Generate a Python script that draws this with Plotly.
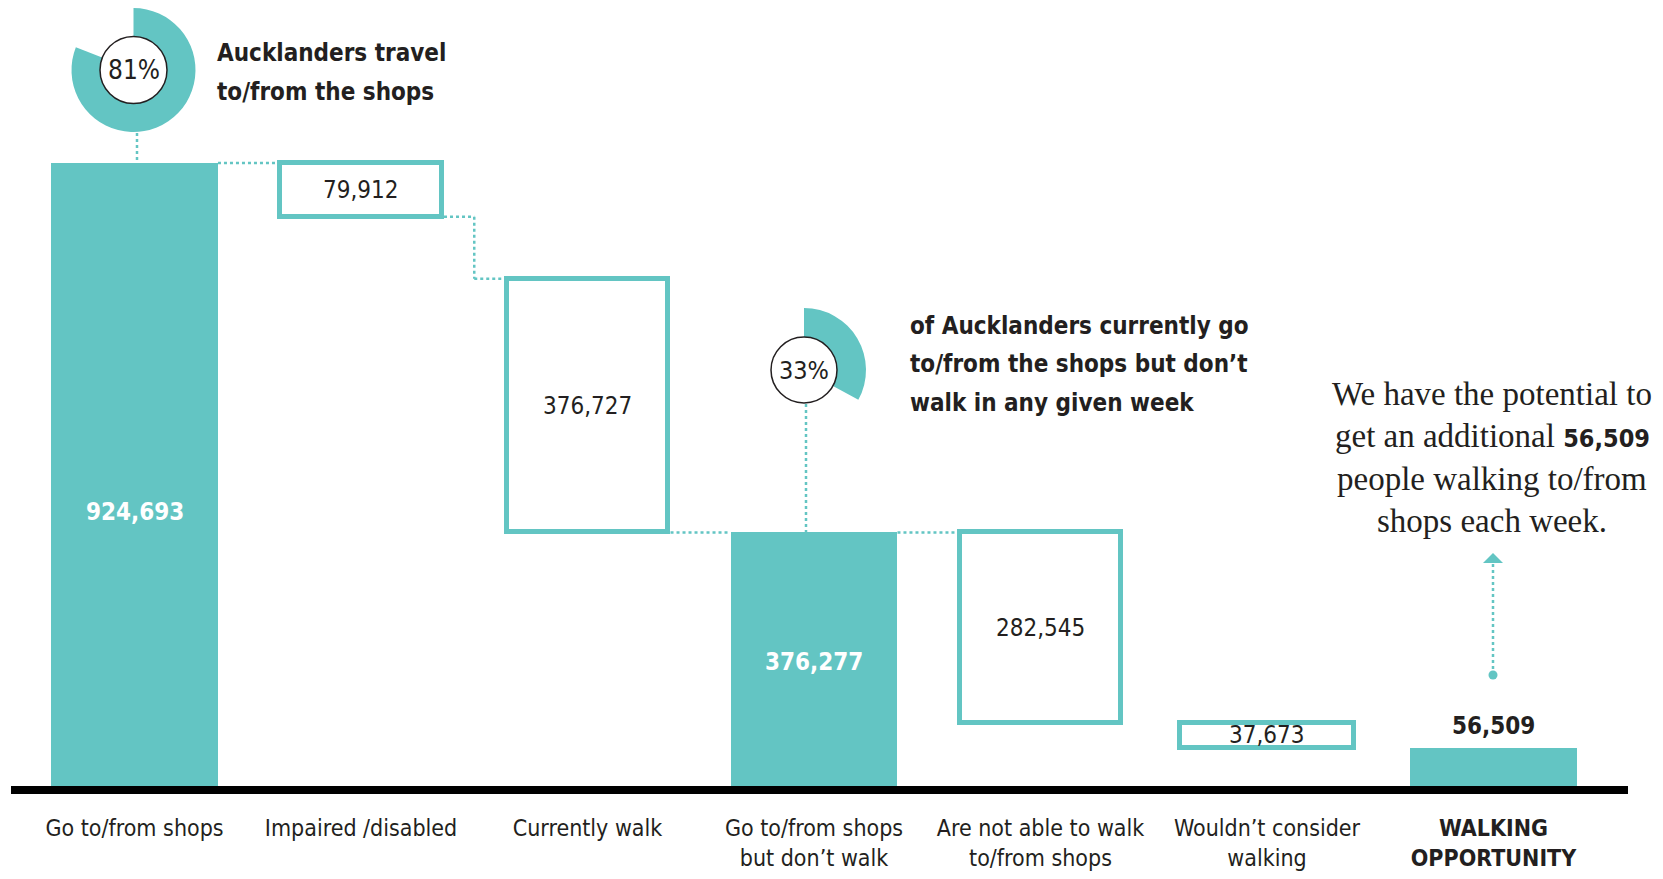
import plotly.graph_objects as go

# ---- data -------------------------------------------------------------
categories = [
    "Go to/from shops",
    "Impaired /disabled",
    "Currently walk",
    "Go to/from shops<br>but don’t walk",
    "Are not able to walk<br>to/from shops",
    "Wouldn’t consider<br>walking",
    "<b>WALKING<br>OPPORTUNITY</b>",
]
values = [924693, 79912, 376727, 376277, 282545, 37673, 56509]
kinds = ["total", "drop", "drop", "total", "drop", "drop", "total"]

share_travel = 81      # % of Aucklanders who travel to/from the shops
share_no_walk = 33     # % who go to/from the shops but don't walk

travel_lines = ["Aucklanders travel", "to/from the shops"]
no_walk_lines = ["of Aucklanders currently go", "to/from the shops but don’t", "walk in any given week"]

# ---- style ------------------------------------------------------------
TEAL = "#63C5C3"
INK = "#231F20"
NARROW = "DejaVu Sans Condensed, DejaVu Sans, sans-serif"
SERIF = "Liberation Serif, Times New Roman, serif"

W, H = 1663, 879
ML, MR, MT, MB = 11, 35, 0, 93
PW, PH = W - ML - MR, H - MT - MB
UNIT_PX = 226.5                      # pixels between category centres
FIRST_CENTER_PX = 134.5
X_START = -(FIRST_CENTER_PX - ML) / UNIT_PX
X_RANGE = [X_START, X_START + PW / UNIT_PX]
Y_MAX = values[0] * PH / 623.0       # tallest bar spans 623 px

bar_width = {"total": 0.737, "drop": 0.711}
last_drop_width = 0.764
OUTLINE = 5
label_frac = [0.44, 0.5, 0.5, 0.49, 0.5, 0.5, 0.5]


def px_x(p):
    return (p - ML) / PW


def px_y(p):
    return (PH + MT - p) / PH


def val_y(v):
    return v / Y_MAX


# ---- waterfall geometry ---------------------------------------------------
n = len(values)
bases = [0] * n
level = 0
for i, (v, k) in enumerate(zip(values, kinds)):
    if k == "total":
        bases[i] = 0
        level = v
    else:
        if i + 1 < n and kinds[i + 1] == "total":
            bases[i] = values[i + 1]          # rests on the following total
        else:
            bases[i] = level - v              # hangs from the level above
        level = bases[i]

widths = []
for i, k in enumerate(kinds):
    w = bar_width[k]
    if k == "drop" and (i + 1 < n and kinds[i + 1] == "total") and i > 3:
        w = last_drop_width
    widths.append(w)

tot_idx = [i for i, k in enumerate(kinds) if k == "total"]
drop_idx = [i for i, k in enumerate(kinds) if k == "drop"]

fig = go.Figure()

fig.add_trace(go.Bar(
    x=[categories[i] for i in tot_idx],
    y=[values[i] for i in tot_idx],
    base=[0 for _ in tot_idx],
    width=[widths[i] for i in tot_idx],
    marker=dict(color=TEAL, line=dict(width=0)),
    hoverinfo="skip",
))
fig.add_trace(go.Bar(
    x=[categories[i] for i in drop_idx],
    y=[values[i] for i in drop_idx],
    base=[bases[i] for i in drop_idx],
    width=[widths[i] for i in drop_idx],
    marker=dict(color="white", line=dict(color=TEAL, width=OUTLINE)),
    hoverinfo="skip",
))

# ---- donut call-outs ------------------------------------------------------
def donut(cx, cy, r, share):
    fig.add_trace(go.Pie(
        values=[share, 100 - share],
        marker=dict(colors=[TEAL, "rgba(0,0,0,0)"], line=dict(width=0)),
        sort=False, direction="clockwise", rotation=0,
        textinfo="none", hoverinfo="skip", hole=0.5,
        domain=dict(x=[px_x(cx - r), px_x(cx + r)], y=[px_y(cy + r), px_y(cy - r)]),
    ))


donut(133.5, 70, 62, share_travel)
donut(804, 370, 62, share_no_walk)

shapes = []
annotations = []

for cx, cy, r in [(133.5, 70, 33.5), (804, 370, 33)]:
    shapes.append(dict(type="circle", xref="paper", yref="paper",
                       x0=px_x(cx - r), x1=px_x(cx + r), y0=px_y(cy + r), y1=px_y(cy - r),
                       fillcolor="white", line=dict(color=INK, width=1.5), layer="above"))

dot_line = dict(color=TEAL, width=2.5, dash="dot")

# leader lines from the donuts to the bars they describe
shapes.append(dict(type="line", xref="paper", yref="paper",
                   x0=px_x(137), x1=px_x(137), y0=px_y(133), y1=val_y(values[0]),
                   line=dot_line, layer="below"))
shapes.append(dict(type="line", xref="paper", yref="paper",
                   x0=px_x(806), x1=px_x(806), y0=px_y(404), y1=val_y(values[3]),
                   line=dot_line, layer="below"))

# step connectors between neighbouring bars
links = [(0, 1), (1, 2), (2, 3), (3, 4)]
out_px = OUTLINE / 2 / UNIT_PX
for a, b in links:
    y_from = values[a] if kinds[a] == "total" else bases[a]
    y_to = bases[b] + values[b]
    xa = a + widths[a] / 2 + (out_px if kinds[a] == "drop" else 0)
    xb = b - widths[b] / 2 - (out_px if kinds[b] == "drop" else 0)
    if abs(y_from - y_to) < 1:
        shapes.append(dict(type="line", xref="x", yref="y", x0=xa, x1=xb,
                           y0=y_from, y1=y_to, line=dot_line, layer="below"))
    else:
        xm = (xa + xb) / 2
        for (x0, y0, x1, y1) in [(xa, y_from, xm, y_from), (xm, y_from, xm, y_to), (xm, y_to, xb, y_to)]:
            shapes.append(dict(type="line", xref="x", yref="y", x0=x0, x1=x1,
                               y0=y0, y1=y1, line=dot_line, layer="below"))

# arrow from the opportunity bar up to the message
ax = 1493
shapes.append(dict(type="line", xref="paper", yref="paper",
                   x0=px_x(ax), x1=px_x(ax), y0=px_y(675), y1=px_y(563),
                   line=dot_line))
shapes.append(dict(type="circle", xref="paper", yref="paper",
                   x0=px_x(ax - 4.5), x1=px_x(ax + 4.5), y0=px_y(679.5), y1=px_y(670.5),
                   fillcolor=TEAL, line=dict(width=0)))
shapes.append(dict(type="path", xref="paper", yref="paper",
                   path=f"M {px_x(ax - 10)} {px_y(563)} L {px_x(ax + 10)} {px_y(563)} L {px_x(ax)} {px_y(553)} Z",
                   fillcolor=TEAL, line=dict(width=0)))

# ---- value labels ---------------------------------------------------------
for i, (v, k) in enumerate(zip(values, kinds)):
    txt = f"{v:,}"
    if i == n - 1:
        annotations.append(dict(x=categories[i], y=v, xref="x", yref="y", text=txt,
                                showarrow=False, xanchor="center", yanchor="bottom", yshift=6,
                                font=dict(family=NARROW, size=24, color=INK, weight="bold")))
    elif k == "total":
        annotations.append(dict(x=categories[i], y=bases[i] + v * label_frac[i], xref="x", yref="y",
                                text=txt, showarrow=False, xanchor="center",
                                font=dict(family=NARROW, size=24, color="white", weight="bold")))
    else:
        annotations.append(dict(x=categories[i], y=bases[i] + v * label_frac[i], xref="x", yref="y",
                                text=txt, showarrow=False, xanchor="center",
                                font=dict(family=NARROW, size=24, color=INK)))

# ---- call-out texts -------------------------------------------------------
annotations.append(dict(x=px_x(133.5), y=px_y(70), xref="paper", yref="paper",
                        text=f"{share_travel}%", showarrow=False,
                        xanchor="center", yanchor="middle",
                        font=dict(family=NARROW, size=26, color=INK)))
annotations.append(dict(x=px_x(804), y=px_y(370), xref="paper", yref="paper",
                        text=f"{share_no_walk}%", showarrow=False,
                        xanchor="center", yanchor="middle",
                        font=dict(family=NARROW, size=25, color=INK)))

head_font = dict(family=NARROW, size=24, color=INK, weight="bold")
for line, y in zip(travel_lines, [53, 92]):
    annotations.append(dict(x=px_x(215), y=px_y(y), xref="paper", yref="paper",
                            text=line, showarrow=False, xanchor="left", yanchor="middle",
                            font=head_font))
for line, y in zip(no_walk_lines, [326, 364, 403]):
    annotations.append(dict(x=px_x(908), y=px_y(y), xref="paper", yref="paper",
                            text=line, showarrow=False, xanchor="left", yanchor="middle",
                            font=head_font))

big = f"<span style='font-family:DejaVu Sans Condensed;font-weight:bold;font-size:25px'>{values[-1]:,}</span>"
message_lines = ["We have the potential to", f"get an additional {big}",
                 "people walking to/from", "shops each week."]
for line, y in zip(message_lines, [394, 436, 479, 521]):
    annotations.append(dict(x=px_x(1492), y=px_y(y), xref="paper", yref="paper",
                            text=line, showarrow=False, xanchor="center", yanchor="middle",
                            font=dict(family=SERIF, size=33, color=INK)))

fig.update_layout(
    width=W, height=H,
    margin=dict(l=ML, r=MR, t=MT, b=MB, pad=0),
    paper_bgcolor="white", plot_bgcolor="white",
    barmode="overlay", bargap=0, showlegend=False,
    shapes=shapes, annotations=annotations,
    xaxis=dict(type="category", categoryorder="array", categoryarray=categories,
               range=X_RANGE, showgrid=False, zeroline=False, automargin=False,
               showline=True, linewidth=8, linecolor="black",
               ticks="", tickangle=0, ticklabelstandoff=14,
               tickfont=dict(family=NARROW, size=23, color=INK), fixedrange=True),
    yaxis=dict(range=[0, Y_MAX], visible=False, showgrid=False, zeroline=False,
               automargin=False, fixedrange=True),
)

fig.write_html("out.html", config={"displayModeBar": False})
